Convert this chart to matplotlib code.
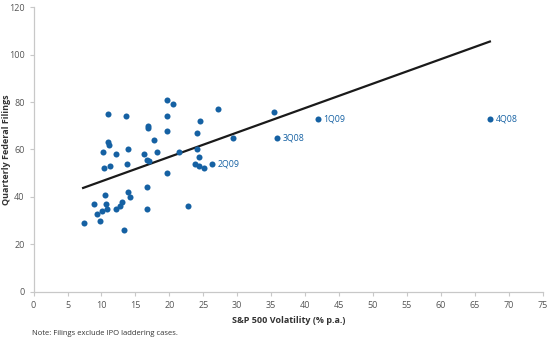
import matplotlib.pyplot as plt

plt.rcParams["font.family"] = ["Open Sans", "DejaVu Sans"]

# S&P 500 volatility (% p.a.) vs quarterly federal filings
volatility = [10.9, 13.6, 19.7, 20.5, 27.1, 35.4, 19.7, 16.8, 16.8, 24.5,
              19.7, 24.0, 29.3, 35.9, 11.0, 11.1, 17.8, 10.3, 13.9, 12.2,
              16.2, 18.2, 21.4, 24.0, 24.4, 10.4, 11.3, 13.8, 16.7, 17.0,
              23.8, 24.4, 25.1, 26.3, 19.6, 16.7, 10.5, 13.9, 14.2, 8.9,
              10.7, 13.0, 12.7, 10.8, 10.1, 9.4, 12.2, 16.7, 22.8, 9.8,
              7.4, 13.3, 41.9, 67.2]
filings = [75, 74, 81, 79, 77, 76, 74, 70, 69, 72,
           68, 67, 65, 65, 63, 62, 64, 59, 60, 58,
           58, 59, 59, 60, 57, 52, 53, 54, 55.5, 55,
           54, 53, 52, 54, 50, 44, 41, 42, 40, 37,
           37, 38, 36, 35, 34, 33, 35, 35, 36, 30,
           29, 26, 73, 73]

labels = {"1Q09": (41.9, 73), "4Q08": (67.2, 73), "3Q08": (35.9, 65), "2Q09": (26.3, 54)}

trend_x = [7.3, 67.2]
trend_y = [43.8, 105.5]

blue = "#1561a3"
grey = "#555555"

fig = plt.figure(figsize=(5.5, 3.39), dpi=100)
ax = fig.add_axes([0.061, 0.139, 0.926, 0.84])

ax.scatter(volatility, filings, s=19, color=blue, linewidths=0, zorder=3)
ax.plot(trend_x, trend_y, color="#1a1a1a", linewidth=1.6, zorder=2)

for name, (x, y) in labels.items():
    ax.annotate(name, (x, y), xytext=(4, 0), textcoords="offset points",
                va="center", ha="left", fontsize=6.3, color=blue)

ax.set_xlim(0, 75)
ax.set_ylim(0, 120)
ax.set_xticks(range(0, 76, 5))
ax.set_yticks(range(0, 121, 20))

for side in ["top", "right"]:
    ax.spines[side].set_visible(False)
for side in ["left", "bottom"]:
    ax.spines[side].set_color("#c8c8c8")
    ax.spines[side].set_linewidth(0.9)
ax.tick_params(colors="#c8c8c8", labelcolor=grey, labelsize=6.5, length=3, width=0.8)

ax.set_xlabel("S&P 500 Volatility (% p.a.)", fontsize=6.5, fontweight="bold",
              color="#333333")
ax.xaxis.set_label_coords(0.5, -0.085)
ax.set_ylabel("Quarterly Federal Filings", fontsize=6.5, fontweight="bold",
              color="#333333")
ax.yaxis.set_label_coords(-0.044, 0.5)

fig.text(0.058, 0.005, "Note: Filings exclude IPO laddering cases.", fontsize=5.5,
         color="#333333", va="bottom")

fig.savefig("out.png", dpi=100)
